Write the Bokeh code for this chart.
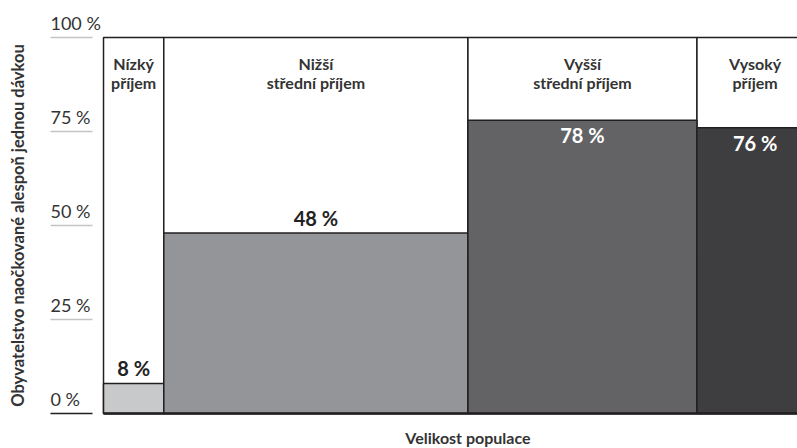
import numpy as np
from bokeh.plotting import figure
from bokeh.models import Range1d, ColumnDataSource
from bokeh.core.properties import value
from bokeh.embed import file_html
from bokeh.resources import INLINE

# ---- data ----
group_line1 = ["Nízký", "Nižší", "Vyšší", "Vysoký"]
group_line2 = ["příjem", "střední příjem", "střední příjem", "příjem"]
population_share = [8.5, 42.9, 32.3, 16.4]      # % of world population (column widths)
vaccinated_pct = [8, 48, 78, 76]                # % vaccinated with at least one dose
bar_colors = ["#c8c9cb", "#949598", "#636366", "#3e3e40"]
y_ticks = [0, 25, 50, 75, 100]
y_tick_labels = ["0 %", "25 %", "50 %", "75 %", "100 %"]
y_title = "Obyvatelstvo naočkované alespoň jednou dávkou"
x_title = "Velikost populace"

FONT = "Lato"
TXT = "#333333"
EDGE = "#231f20"

right = np.cumsum(population_share)
left = right - np.array(population_share)
center = (left + right) / 2

p = figure(width=797, height=448, output_backend="svg", toolbar_location=None,
           x_range=Range1d(-14.53, 97.88), y_range=Range1d(-9.31, 109.84),
           x_axis_type=None, y_axis_type=None, min_border=0)
p.grid.visible = False
p.outline_line_color = None
p.background_fill_color = "white"

# full-height column frames
p.quad(left=left, right=right, bottom=0, top=100, fill_color="white",
       line_color=EDGE, line_width=1.5)
# bars
src = ColumnDataSource(dict(left=left, right=right, top=vaccinated_pct, color=bar_colors))
p.quad(left="left", right="right", bottom=0, top="top", fill_color="color",
       line_color=EDGE, line_width=1.5, source=src)
# baseline
p.segment(x0=[left[0]], y0=[0], x1=[right[-1]], y1=[0], line_color=EDGE, line_width=2.5)

# y "axis": short grid lines + labels
gx0, gx1 = -7.48, -1.55
grid_colors = [EDGE] + ["#c4c4c4"] * (len(y_ticks) - 1)
p.segment(x0=[gx0] * len(y_ticks), y0=y_ticks, x1=[gx1] * len(y_ticks), y1=y_ticks,
          line_color=grid_colors, line_width=1.5)
p.text(x=[gx0] * len(y_ticks), y=y_ticks, text=y_tick_labels, y_offset=-14,
       text_font=value(FONT), text_font_size="18px", text_color=TXT,
       text_align="left", text_baseline="middle")

# column headers
p.text(x=center, y=[100] * 4, text=group_line1, y_offset=26,
       text_font=value(FONT), text_font_size="16px", text_font_style="bold",
       text_color=TXT, text_align="center", text_baseline="middle")
p.text(x=center, y=[100] * 4, text=group_line2, y_offset=45,
       text_font=value(FONT), text_font_size="16px", text_font_style="bold",
       text_color=TXT, text_align="center", text_baseline="middle")

# value labels
labels = [f"{v} %" for v in vaccinated_pct]
inside = [v > 60 for v in vaccinated_pct]
p.text(x=center, y=vaccinated_pct, text=labels,
       y_offset=[15 if i else -15 for i in inside],
       text_color=["white" if i else "#222222" for i in inside],
       text_font=value(FONT), text_font_size="20px", text_font_style="bold",
       text_align="center", text_baseline="middle")

# axis titles
p.text(x=[-12.13], y=[50], text=[y_title], angle=np.pi / 2,
       text_font=value(FONT), text_font_size="16.5px", text_font_style="bold",
       text_color=TXT, text_align="center", text_baseline="middle")
p.text(x=[51.4], y=[0], text=[x_title], y_offset=24,
       text_font=value(FONT), text_font_size="16px", text_font_style="bold",
       text_color=TXT, text_align="center", text_baseline="middle")

open("out.html", "w").write(file_html(p, INLINE))
